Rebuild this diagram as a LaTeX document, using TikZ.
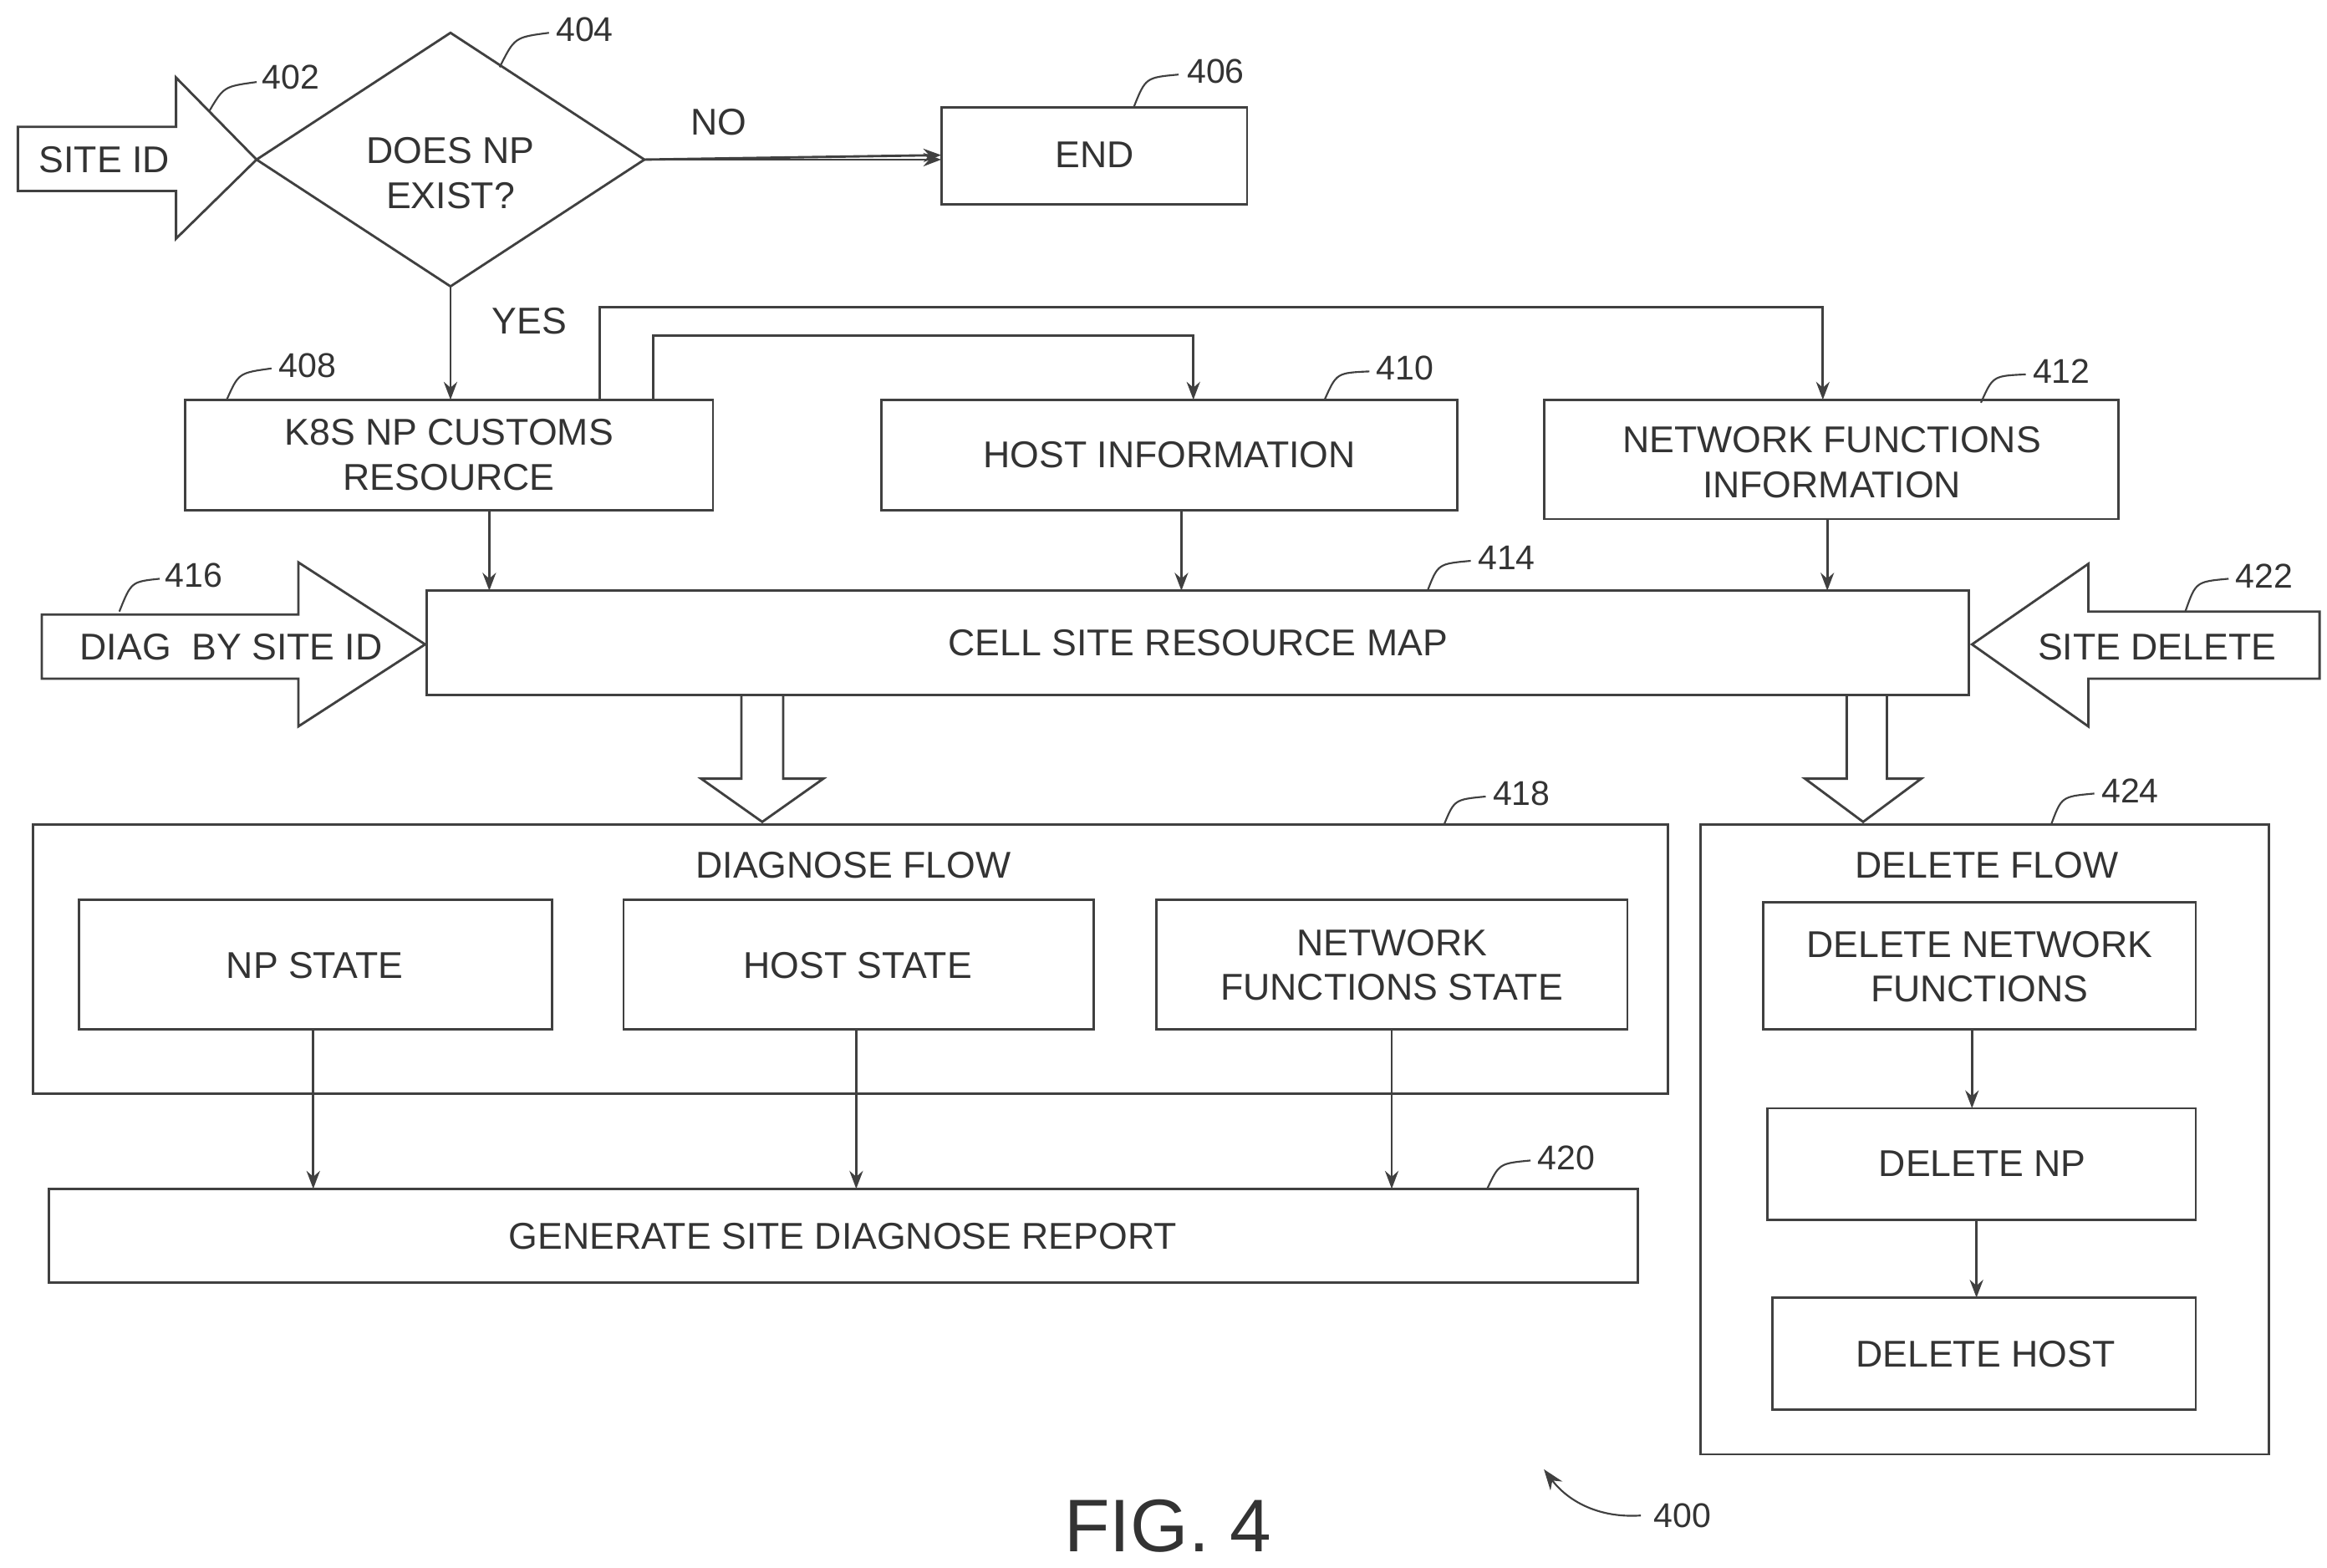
\documentclass[tikz,border=0pt]{standalone}
\usepackage{fontspec}
\setmainfont{Liberation Sans}
\usetikzlibrary{arrows.meta}
\begin{document}
\begin{tikzpicture}[x=1pt,y=-1pt,line width=1.6pt,draw=black!75,
  txt/.style={font=\fontsize{25}{30}\selectfont,text=black!80,align=center},
  num/.style={font=\fontsize{23}{27}\selectfont,text=black!80},
  arr/.style={-{Stealth[length=12pt,width=9pt]}},
  box/.style={draw=black!75,line width=1.6pt}]
\useasboundingbox (0,0) rectangle (1560,1051);
% site id arrow
\draw (12,85) -- (118,85) -- (118,52) -- (172,107) -- (118,160) -- (118,128) -- (12,128) -- cycle;
\node[txt] (siteid) at (70,107) {SITE ID};
% diamond
\draw (172,107) -- (302,22) -- (432,107) -- (302,192) -- cycle;
\node[txt] (dec) at (302,116) {DOES NP\\EXIST?};
\coordinate (dR) at (432,107); \coordinate (dB) at (302,192);
\draw[box] (631,72) rectangle (836,137); \node[txt] (end) at (734,104) {END};
\draw[arr] (dR) -- (end.west-|631,0) ;
\draw[arr] (432,107) -- (631,107);
\node[txt] at (482,82) {NO};
\draw[box] (124,268) rectangle (478,342); \node[txt] (k8s) at (301,305) {K8S NP CUSTOMS\\RESOURCE};
\draw[box] (591,268) rectangle (977,342); \node[txt] (host) at (784,305) {HOST INFORMATION};
\draw[box] (1035,268) rectangle (1420,348); \node[txt] (nf) at (1228,310) {NETWORK FUNCTIONS\\INFORMATION};
\draw[arr] (dB) -- (302,268);
\node[txt] at (355,215) {YES};
\draw[arr] (402,268) -- (402,206) -- (1222,206) -- (1222,268);
\draw[arr] (438,268) -- (438,225) -- (800,225) -- (800,268);
\draw[box] (286,396) rectangle (1320,466); \node[txt] (map) at (803,431) {CELL SITE RESOURCE MAP};
\draw[arr] (328,342) -- (328,396);
\draw[arr] (792,342) -- (792,396);
\draw[arr] (1225,348) -- (1225,396);
% 416
\draw (28,412) -- (200,412) -- (200,377) -- (285,432) -- (200,487) -- (200,455) -- (28,455) -- cycle;
\node[txt] (diag) at (155,434) {DIAG\ \ BY SITE ID};
% 422
\draw (1555,410) -- (1400,410) -- (1400,378) -- (1322,432) -- (1400,487) -- (1400,455) -- (1555,455) -- cycle;
\node[txt] (sdel) at (1446,434) {SITE DELETE};
% block arrows
\draw (497,466) -- (497,522) -- (470,522) -- (511,551) -- (552,522) -- (525,522) -- (525,466);
\draw (1238,466) -- (1238,522) -- (1210,522) -- (1249,551) -- (1288,522) -- (1265,522) -- (1265,466);
% diagnose
\draw[box] (22,553) rectangle (1118,733); \node[txt] (df) at (572,580) {DIAGNOSE FLOW};
\draw[box] (53,603) rectangle (370,690); \node[txt] (nps) at (211,647) {NP STATE};
\draw[box] (418,603) rectangle (733,690); \node[txt] (hs) at (575,647) {HOST STATE};
\draw[box] (775,603) rectangle (1091,690); \node[txt] (nfs) at (933,647) {NETWORK\\FUNCTIONS STATE};
\draw[box] (33,797) rectangle (1098,860); \node[txt] (rep) at (565,829) {GENERATE SITE DIAGNOSE REPORT};
\draw[arr] (210,690) -- (210,797);
\draw[arr] (574,690) -- (574,797);
\draw[arr] (933,690) -- (933,797);
% delete
\draw[box] (1140,553) rectangle (1521,975); \node[txt] (delf) at (1332,580) {DELETE FLOW};
\draw[box] (1182,605) rectangle (1472,690); \node[txt] (dnf) at (1327,648) {DELETE NETWORK\\FUNCTIONS};
\draw[box] (1185,743) rectangle (1472,818); \node[txt] (dnp) at (1329,780) {DELETE NP};
\draw[box] (1188,870) rectangle (1472,945); \node[txt] (dh) at (1331,908) {DELETE HOST};
\draw[arr] (1322,690) -- (1322,743);
\draw[arr] (1325,818) -- (1325,870);
% labels
\node[num] at (195,52) {402}; \draw[line width=1.2pt] (140,75) .. controls (150,58) .. (172,55);
\node[num] at (392,20) {404}; \draw[line width=1.2pt] (335,45) .. controls (345,25) .. (368,22);
\node[num] at (815,48) {406}; \draw[line width=1.2pt] (760,72) .. controls (768,52) .. (790,50);
\node[num] at (206,245) {408}; \draw[line width=1.2pt] (152,268) .. controls (160,250) .. (182,247);
\node[num] at (942,247) {410}; \draw[line width=1.2pt] (888,268) .. controls (896,250) .. (918,249);
\node[num] at (1382,249) {412}; \draw[line width=1.2pt] (1328,270) .. controls (1336,252) .. (1358,251);
\node[num] at (1010,374) {414}; \draw[line width=1.2pt] (957,396) .. controls (964,378) .. (986,376);
\node[num] at (130,386) {416}; \draw[line width=1.2pt] (80,410) .. controls (88,390) .. (107,388);
\node[num] at (1518,386) {422}; \draw[line width=1.2pt] (1465,410) .. controls (1472,390) .. (1494,388);
\node[num] at (1020,532) {418}; \draw[line width=1.2pt] (968,553) .. controls (975,536) .. (996,534);
\node[num] at (1428,530) {424}; \draw[line width=1.2pt] (1375,553) .. controls (1382,534) .. (1404,532);
\node[num] at (1050,776) {420}; \draw[line width=1.2pt] (997,797) .. controls (1005,780) .. (1026,778);
\node[num] at (1128,1016) {400}; \draw[line width=1.2pt,-{Stealth[length=14pt,width=10pt]}] (1100,1016) .. controls (1070,1018) and (1050,1005) .. (1035,985);
\node[font=\fontsize{50}{56}\selectfont,text=black!80] (fig) at (783,1023) {FIG. 4};
\end{tikzpicture}
\end{document}
